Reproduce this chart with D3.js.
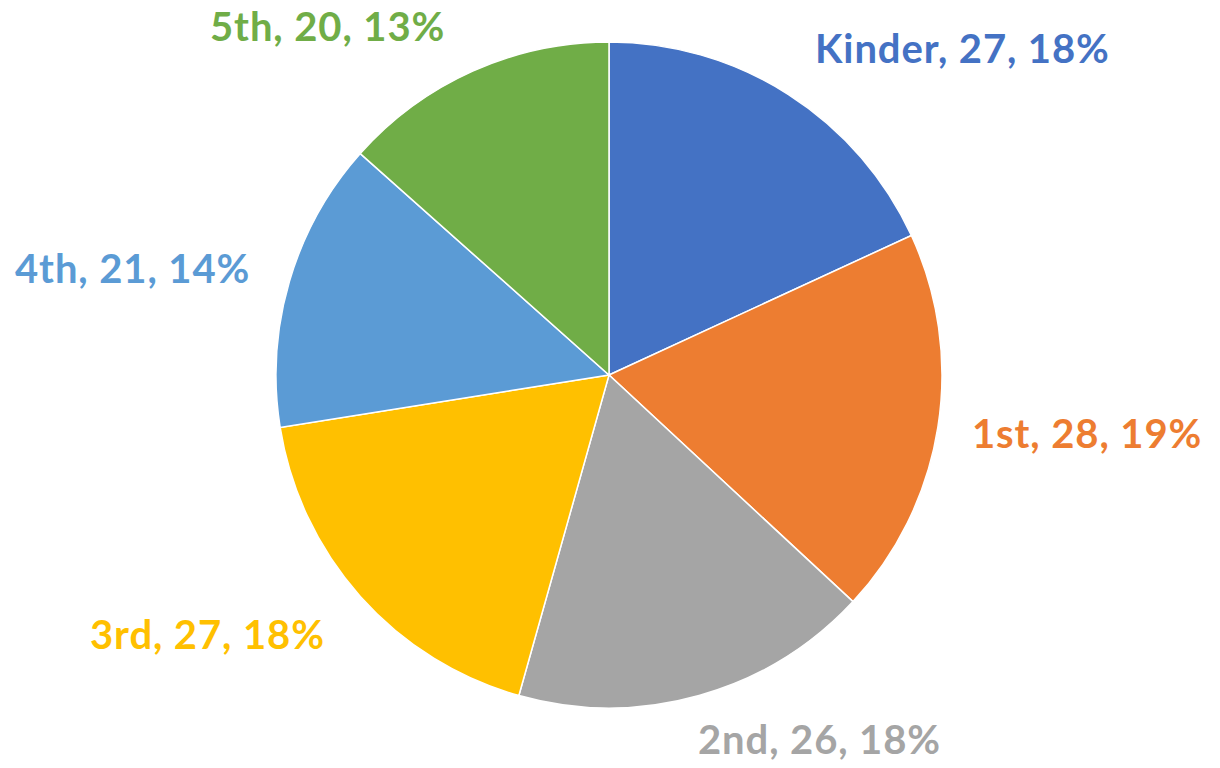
<!DOCTYPE html>
<html><head><meta charset="utf-8">
<script src="https://cdn.jsdelivr.net/npm/d3@7/dist/d3.min.js"></script>
<style>body{margin:0;background:#fff}</style>
</head><body>
<svg id="c" width="1220" height="768"></svg>
<script>
const categories = ["Kinder","1st","2nd","3rd","4th","5th"];
const values = [27,28,26,27,21,20];
const percents = ["18%","19%","18%","18%","14%","13%"];
const colors = ["#4472C4","#ED7D31","#A5A5A5","#FFC000","#5B9BD5","#70AD47"];
// label anchor positions (left x, baseline y)
const labelPos = [[815,63],[972,448],[698,754],[90,649],[15,283],[210,41]];

const svg = d3.select("#c");
const cx = 609, cy = 375, r = 333;
const pie = d3.pie().sort(null).value(d=>d)(values);
const arc = d3.arc().innerRadius(0).outerRadius(r);
const g = svg.append("g").attr("transform",`translate(${cx},${cy})`);
g.selectAll("path").data(pie).join("path")
  .attr("d",arc).attr("fill",(d,i)=>colors[i])
  .attr("stroke","#fff").attr("stroke-width",1.5);

svg.selectAll("text.lbl").data(categories).join("text")
  .attr("class","lbl")
  .attr("x",(d,i)=>labelPos[i][0]).attr("y",(d,i)=>labelPos[i][1])
  .attr("fill",(d,i)=>colors[i])
  .style("font-family","Lato, 'Open Sans', sans-serif")
  .style("font-weight","bold").style("font-size","40px")
  .style("letter-spacing","0.9px")
  .text((d,i)=>`${d}, ${values[i]}, ${percents[i]}`);
</script>
</body></html>
